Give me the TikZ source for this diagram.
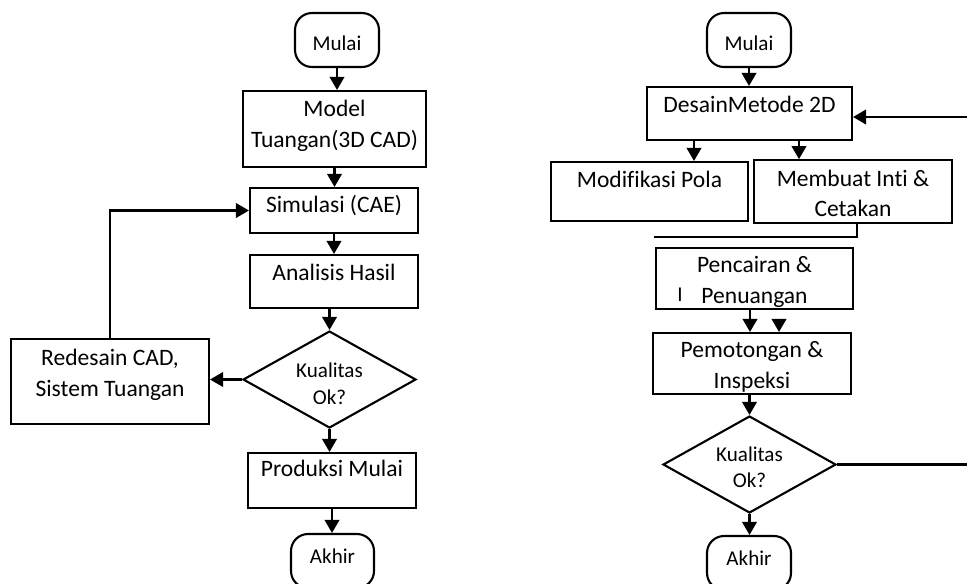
\documentclass[tikz,border=0pt]{standalone}
\usepackage{fontspec}
\setmainfont{Carlito}[Ligatures=NoCommon]
\usetikzlibrary{arrows.meta,shapes.geometric}

\newcommand\procfont{\fontsize{13.4pt}{17.6pt}\selectfont}
\newcommand\termfont{\fontsize{12pt}{15.2pt}\selectfont}

\begin{document}
\begin{tikzpicture}[x=0.02cm,y=-0.02cm,line width=1.2pt,>={Triangle[length=0.26cm,width=0.29cm]}]
			\tikzstyle{proc} = [draw,rectangle,align=center,inner xsep=1pt,font=\procfont];
			\tikzstyle{term} = [draw,rectangle,rounded corners=0.34cm,font=\termfont,minimum width=1.68cm,minimum height=1.08cm];
			\tikzstyle{cond} = [draw,diamond,aspect=1.78,inner sep=0pt,align=center,font=\termfont,minimum width=3.46cm,minimum height=1.94cm];
			\useasboundingbox (0,0) rectangle (967,583);
			\clip (0,0) rectangle (967,583);
			% left flow
			\node[term,text height=12.5pt,text depth=0pt] (mulaiA) at (337,40) {Mulai};
			\node[proc,minimum width=3.66cm,minimum height=1.52cm,text height=21.6pt,text depth=0pt] (modelA) at (334.5,129) {Model\\[0.6pt]Tuangan(3D CAD)};
			\node[proc,minimum width=3.36cm,minimum height=0.9cm,text height=1.7pt,text depth=0pt] (simA) at (334,210.5) {Simulasi (CAE)};
			\node[proc,minimum width=3.36cm,minimum height=1.06cm,text height=0pt,text depth=1.7pt] (anaA) at (334,281.5) {Analisis Hasil};
			\node[cond,text height=27.9pt,text depth=0pt] (okA) at (329.5,379.5) {Kualitas\\Ok?};
			\node[proc,minimum width=3.96cm,minimum height=1.7cm,text height=16.5pt,text depth=0pt] (redA) at (110,381.5) {Redesain CAD,\\Sistem Tuangan};
			\node[proc,minimum width=3.36cm,minimum height=1.1cm,text height=0pt,text depth=4pt] (prodA) at (332,480.5) {Produksi Mulai};
			\node[term,minimum width=1.66cm,text height=2.3pt,text depth=0pt] (akhirA) at (332.5,561) {Akhir};
			\draw[->] (mulaiA.south) -- (mulaiA.south |- modelA.north);
			\draw[->] (modelA.south) -- (modelA.south |- simA.north);
			\draw[->] (simA.south) -- (simA.south |- anaA.north);
			\draw[->] (okA.north |- anaA.south) -- (okA.north);
			\draw[->] (okA.south) -- (okA.south |- prodA.north);
			\draw[->] (prodA.south) -- (prodA.south |- akhirA.north);
			\draw[->] (okA.west) -- (okA.west -| redA.east);
			\draw[->] (redA.north) |- (simA.west);
			% right flow
			\node[term,text height=12.5pt,text depth=0pt] (mulaiB) at (749,40) {Mulai};
			\node[proc,minimum width=4.1cm,minimum height=1.06cm,text height=0pt,text depth=1.7pt] (desB) at (749.5,113.5) {DesainMetode 2D};
			\node[proc,minimum width=3.94cm,minimum height=1.18cm,text height=0pt,text depth=4pt] (modB) at (649.5,191.5) {Modifikasi Pola};
			\node[proc,minimum width=3.96cm,minimum height=1.18cm,text height=29pt,text depth=0pt] (buatB) at (853,191.5) {Membuat Inti \&\\Cetakan};
			\node[proc,minimum width=3.94cm,minimum height=1.22cm,text height=27.9pt,text depth=0pt] (pencB) at (754.5,278.5) {Pencairan \&\\Penuangan};
			\node[font=\termfont,anchor=base,inner sep=0pt] (cursorB) at (680,301) {I};
			\node[proc,minimum width=3.96cm,minimum height=1.22cm,text height=27.9pt,text depth=0pt] (potB) at (752,363.5) {Pemotongan \&\\Inspeksi};
			\node[cond,text height=26.7pt,text depth=0pt] (okB) at (749.5,464.5) {Kualitas\\Ok?};
			\node[term,text height=2.3pt,text depth=0pt] (akhirB) at (749,563) {Akhir};
			\coordinate (backIn) at (967,117);
			\coordinate (backOut) at (967,464.5);
			\coordinate (joinEnd) at (654,237);
			\draw[->] (mulaiB.south) -- (mulaiB.south |- desB.north);
			\draw[->] ([xshift=-1.11cm]desB.south) -- ([xshift=-1.11cm]desB.south |- modB.north);
			\draw[->] ([xshift=0.99cm]desB.south) -- ([xshift=0.99cm]desB.south |- buatB.north);
			\draw ([xshift=0.08cm]buatB.south) |- (joinEnd);
			\draw[->] ([xshift=-0.09cm]pencB.south) -- ([xshift=-0.09cm]pencB.south |- potB.north);
			\draw[->] ([xshift=0.49cm,yshift=-0.22cm]pencB.south) -- ([xshift=0.49cm]pencB.south |- potB.north);
			\draw[->] (okB.north |- potB.south) -- (okB.north);
			\draw[->] (okB.south) -- (okB.south |- akhirB.north);
			\draw[->] (backIn) -- (backIn -| desB.east);
			\draw (okB.east) -- (backOut);
		\end{tikzpicture}
\end{document}
